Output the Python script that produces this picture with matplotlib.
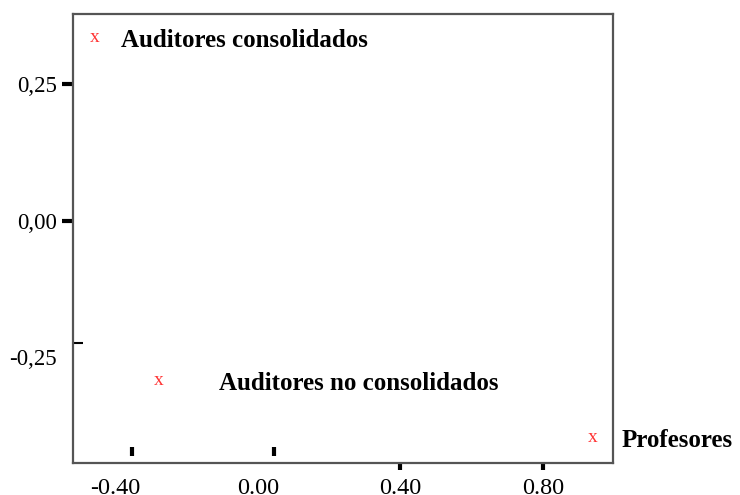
import matplotlib.pyplot as plt

# group positions
groups = ['Auditores consolidados', 'Auditores no consolidados', 'Profesores']
x_vals = [-0.456, -0.279, 0.940]
y_vals = [0.335, -0.293, -0.396]
# horizontal gap between marker and its label (pixels)
label_gap = [26, 61, 29]

x_ticks = [-0.40, 0.00, 0.40, 0.80]
x_tick_labels = ['-0.40', '0.00', '0.40', '0.80']
y_ticks = [0.25, 0.00, -0.25]
y_tick_labels = ['0,25', '0,00', '-0,25']

plt.rcParams['font.family'] = ['Liberation Serif', 'DejaVu Serif']

fig = plt.figure(figsize=(7.4, 4.95), dpi=100)
ax = fig.add_axes([0.0986, 0.0646, 0.7297, 0.9071])
ax.set_xlim(-0.518, 0.996)
ax.set_ylim(-0.443, 0.378)

for s in ax.spines.values():
    s.set_color('#555555')
    s.set_linewidth(1.6)

# points as red serif "x" glyphs plus bold labels
for name, x, y, gap in zip(groups, x_vals, y_vals, label_gap):
    ax.text(x, y, 'x', color='#ff3333', fontsize=14, ha='center', va='center')
    ax.annotate(name, (x, y), xytext=(gap, -3), textcoords='offset pixels',
                fontsize=18, fontweight='bold', ha='left', va='center',
                annotation_clip=False)

ax.set_xticks(x_ticks)
ax.set_xticklabels(x_tick_labels)
ax.set_yticks(y_ticks)
ax.set_yticklabels(y_tick_labels)
ax.tick_params(axis='x', direction='out', length=5, width=3, color='black',
               labelsize=17.5, pad=6)
ax.tick_params(axis='y', direction='out', length=8, width=3, color='black',
               labelsize=16.5, pad=3.5)

# SPSS-style quirks: some ticks sit inside the frame, slightly off their label
for t in ax.xaxis.get_major_ticks()[:2]:
    t.tick1line.set_visible(False)
ax.yaxis.get_major_ticks()[2].tick1line.set_visible(False)
for xv in [-0.352, 0.046]:
    ax.axvline(xv, ymin=0.016, ymax=0.036, color='black', lw=3, solid_capstyle='butt')
ax.set_yticks([-0.223], minor=True)
ax.tick_params(axis='y', which='minor', direction='in', length=7.5, width=1.5)

fig.savefig('out.png', dpi=100)
